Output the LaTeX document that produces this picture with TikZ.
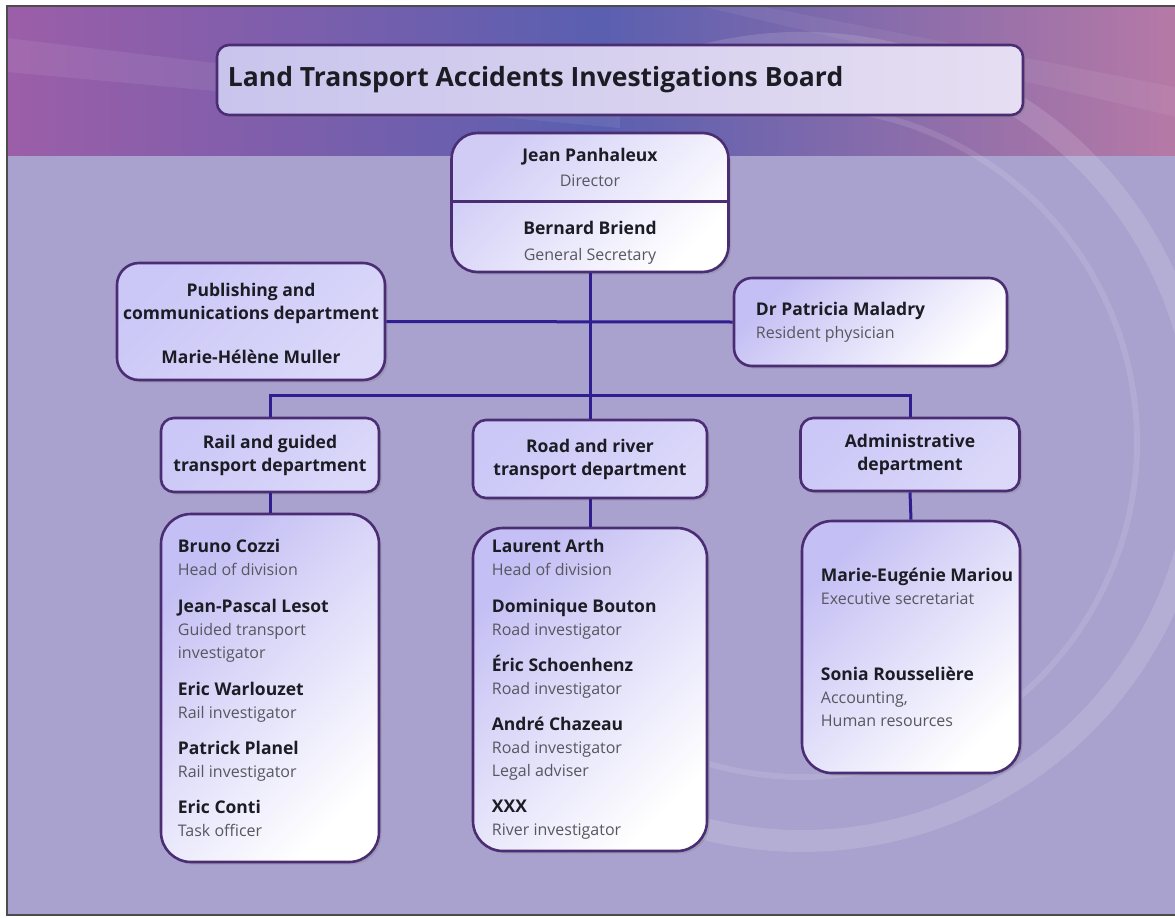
\documentclass[tikz,border=0pt]{standalone}
\usepackage{fontspec}
\setmainfont{Open Sans}
\usepackage{xcolor}
\usetikzlibrary{positioning,shadows}

\definecolor{bgLav}{HTML}{A9A1CE}
\definecolor{edge}{HTML}{4B2D73}
\definecolor{wireBlue}{HTML}{2E1E90}
\definecolor{tint}{HTML}{C4BFF4}
\definecolor{deptTint}{HTML}{CBC7F7}
\definecolor{nameInk}{HTML}{1C1C24}
\definecolor{roleInk}{HTML}{57575F}
\definecolor{hdLeft}{HTML}{9C5EA8}
\definecolor{hdMid}{HTML}{5A5FB0}
\definecolor{hdRight}{HTML}{B87AA6}
\definecolor{ttlLeft}{HTML}{C8C4EC}
\definecolor{ttlRight}{HTML}{E6DEF2}

% 名前と役職
\newcommand{\nm}[1]{{\bfseries\fontsize{17.5}{23}\selectfont\color{nameInk}#1}}
\newcommand{\yk}[1]{{\fontsize{16}{23}\selectfont\color{roleInk}#1}}

\begin{document}
\begin{tikzpicture}[x=1pt,y=-1pt,
    box/.style={draw=edge,line width=2.6pt,rounded corners=22pt,inner sep=0pt,
      top color=tint,bottom color=white,shading angle=45,
      drop shadow={shadow xshift=2.5pt,shadow yshift=-2.5pt,opacity=.3}},
    dept/.style={box,top color=deptTint,bottom color=deptTint!70!white,shading angle=45,
      rounded corners=13pt},
    moji/.style={inner sep=0pt,font=\fontsize{16}{23}\selectfont},
    wire/.style={draw=wireBlue,line width=3pt}]

  % 背景
  \fill[white] (0,0) rectangle (1175,918);
  \useasboundingbox (0,0) rectangle (1175,918);
  \fill[bgLav] (7,6) rectangle (1190,915);
  \begin{scope}
    \clip (7,6) rectangle (1190,915);
    \shade[left color=hdLeft,right color=hdRight,middle color=hdMid] (7,6) rectangle (1190,155);
    % 光の筋
    \fill[white,opacity=.07] (7,38) -- (620,112) -- (620,128) -- (7,72) -- cycle;
    \fill[white,opacity=.06] (760,6) -- (1190,90) -- (1190,120) -- (700,6) -- cycle;
    % 円弧
    \draw[white,opacity=.13,line width=22pt] (802,442) ++(-112:399) arc[start angle=-112,end angle=118,radius=399];
    \draw[white,opacity=.11,line width=6pt] (802,442) ++(-100:335) arc[start angle=-100,end angle=106,radius=335];
  \end{scope}
  \draw[black!70,line width=1.2pt] (7,6) rectangle (1190,915);

  % 見出し
  \node[box,rounded corners=12pt,left color=ttlLeft,right color=ttlRight,
    minimum width=806pt,minimum height=70pt] (title) at (620,80) {};
  \node[moji,anchor=west,font=\fontsize{26.5}{30}\selectfont\bfseries,text=nameInk]
    (titletxt) at ([xshift=12pt]title.west) {Land Transport Accidents Investigations Board};

  % 局長・事務局長
  \node[box,rounded corners=26pt,top color=tint!80!white,bottom color=white,shading angle=45,
    minimum width=277pt,minimum height=139pt] (dir) at (590,202.5) {};
  \coordinate (cut) at (590,201);
  \draw[edge,line width=3pt] (dir.west |- cut) -- (dir.east |- cut);
  \node[moji,align=center] (dirtxt) at (590,167.5) {\nm{Jean Panhaleux}\\[1.5pt]\yk{Director}};
  \node[moji,align=center] (sectxt) at (590,242.5) {\nm{Bernard Briend}\\[3pt]\yk{General Secretary}};

  % 広報・医師
  \node[dept,rounded corners=22pt,minimum width=268pt,minimum height=117pt] (pub) at (251,321.5) {};
  \node[moji,align=center] (pubtxt) at (251,323)
    {\nm{Publishing and}\\\nm{communications department}\\[21pt]\nm{Marie-Hélène Muller}};
  \node[box,rounded corners=18pt,minimum width=273pt,minimum height=88pt] (doc) at (870.5,322) {};
  \node[moji,anchor=west,align=left] (doctxt) at ([xshift=23pt]doc.west)
    {\nm{Dr Patricia Maladry}\\\yk{Resident physician}};

  % 部門
  \node[dept,minimum width=218pt,minimum height=74pt] (rail) at (270,455) {};
  \node[moji,align=center] (railtxt) at (rail) {\nm{Rail and guided}\\\nm{transport department}};
  \node[dept,minimum width=234pt,minimum height=78pt] (road) at (590,459) {};
  \node[moji,align=center] (roadtxt) at (road) {\nm{Road and river}\\\nm{transport department}};
  \node[dept,minimum width=219pt,minimum height=73pt] (adm) at (910,454.5) {};
  \node[moji,align=center] (admtxt) at (adm) {\nm{Administrative}\\\nm{department}};

  % 職員
  \node[box,rounded corners=30pt,minimum width=218pt,minimum height=348pt] (railppl) at (270,688) {};
  \node[moji,anchor=west,align=left] (railppltxt) at ([xshift=18pt]railppl.west)
    {\nm{Bruno Cozzi}\\\yk{Head of division}\\[14pt]
     \nm{Jean-Pascal Lesot}\\\yk{Guided transport}\\\yk{investigator}\\[14pt]
     \nm{Eric Warlouzet}\\\yk{Rail investigator}\\[13pt]
     \nm{Patrick Planel}\\\yk{Rail investigator}\\[13pt]
     \nm{Eric Conti}\\\yk{Task officer}};
  \node[box,rounded corners=30pt,minimum width=234pt,minimum height=323pt] (roadppl) at (590,689.5) {};
  \node[moji,anchor=west,align=left] (roadppltxt) at ([xshift=20pt]roadppl.west)
    {\nm{Laurent Arth}\\\yk{Head of division}\\[14pt]
     \nm{Dominique Bouton}\\\yk{Road investigator}\\[13pt]
     \nm{Éric Schoenhenz}\\\yk{Road investigator}\\[13pt]
     \nm{André Chazeau}\\\yk{Road investigator}\\\yk{Legal adviser}\\[13pt]
     \nm{XXX}\\\yk{River investigator}};
  \node[box,rounded corners=30pt,minimum width=218pt,minimum height=252pt] (admppl) at (911,647) {};
  \node[moji,anchor=west,align=left] (admppltxt) at ([xshift=20pt]admppl.west)
    {\nm{Marie-Eugénie Mariou}\\\yk{Executive secretariat}\\[53pt]
     \nm{Sonia Rousselière}\\\yk{Accounting,}\\\yk{Human resources}};

  % 接続線
  \coordinate (bus) at (590,395);
  \draw[wire] (dir.south) -- (bus);
  \draw[wire] (pub.east) -- (doc.west);
  \draw[wire] (rail.north) |- (bus) -| (adm.north);
  \draw[wire] (bus) -- (road.north);
  \draw[wire] (rail.south) -- (railppl.north);
  \draw[wire] (road.south) -- (roadppl.north);
  \draw[wire] (adm.south) -- (admppl.north);
\end{tikzpicture}
\end{document}
